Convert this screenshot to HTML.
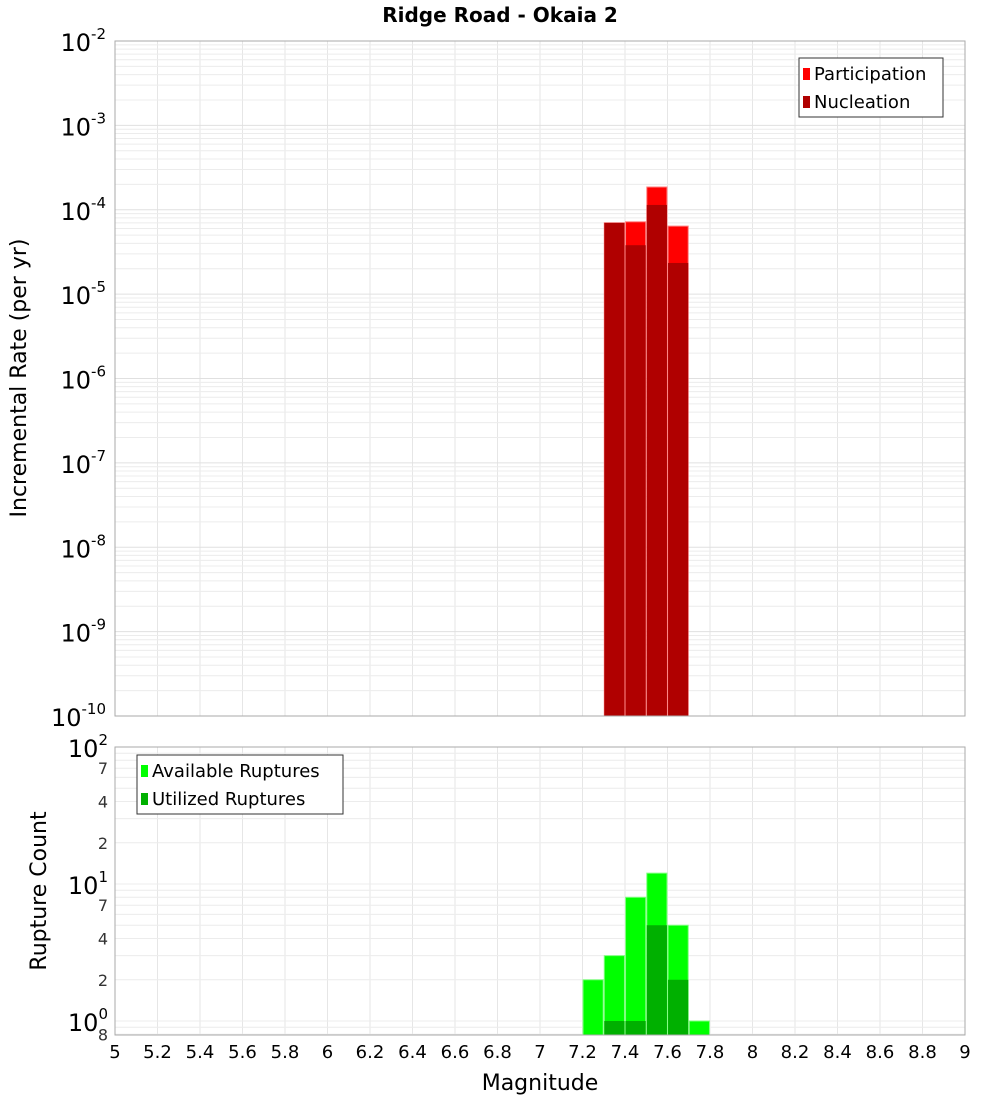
<!DOCTYPE html>
<html><head><meta charset="utf-8"><style>
html,body{margin:0;padding:0;background:#fff;}
svg{display:block;font-family:"DejaVu Sans","Liberation Sans",sans-serif;}
</style></head><body>
<svg id="c" width="1000" height="1100" xmlns="http://www.w3.org/2000/svg">
<text x="500" y="22" text-anchor="middle" font-size="20" font-weight="bold">Ridge Road - Okaia 2</text>
<g id="grid"></g><g id="bars"></g><g id="axes"></g>
</svg>
<script>
const mags = [7.35, 7.45, 7.55, 7.65];
const participation = [7.0e-5, 7.2e-5, 1.86e-4, 6.4e-5];
const nucleation = [7.0e-5, 3.8e-5, 1.14e-4, 2.34e-5];
const countMags = [7.25, 7.35, 7.45, 7.55, 7.65, 7.75];
const available = [2, 3, 8, 12, 5, 1];
const utilized = [0, 1, 1, 5, 2, 0];
const xTicks = ["5","5.2","5.4","5.6","5.8","6","6.2","6.4","6.6","6.8","7","7.2","7.4","7.6","7.8","8","8.2","8.4","8.6","8.8","9"];
const topExps = [-10,-9,-8,-7,-6,-5,-4,-3,-2];

const NS="http://www.w3.org/2000/svg";
const svg=document.getElementById('c');
const G=document.getElementById('grid'),B=document.getElementById('bars'),A=document.getElementById('axes');
function mk(p,tag,at){const e=document.createElementNS(NS,tag);for(const k in at)e.setAttribute(k,at[k]);p.appendChild(e);return e;}
const X0=115,X1=965;
const x=m=>X0+(m-5)/4*(X1-X0);
const T0=41,T1=716;
const yTop=v=>T0+(-2-Math.log10(v))*(T1-T0)/8;
const B0=747,B1=1035;
const yBot=v=>B0+(2-Math.log10(v))*137;

// frames background grids
function vgrid(y0,y1){for(let i=0;i<xTicks.length;i++){const xx=x(+xTicks[i]);const l=mk(G,'line',{x1:xx,x2:xx,y1:y0,y2:y1,stroke:'#e6e6e6'});

}}
vgrid(T0,T1);vgrid(B0,B1);
for(let e=-10;e<-2;e++)for(let k=1;k<10;k++){const yy=yTop(k*Math.pow(10,e));const l=mk(G,'line',{x1:X0,x2:X1,y1:yy,y2:yy,stroke:k==1?'#e0e0e0':'#ececec'});

}
for(let e=-1;e<2;e++)for(let k=1;k<10;k++){const v=k*Math.pow(10,e);const yy=yBot(v);if(yy>B1||yy<B0)continue;const l=mk(G,'line',{x1:X0,x2:X1,y1:yy,y2:yy,stroke:'#ececec'});

}

const bw=x(5.095)-x(5);
mags.forEach((m,i)=>{
 let r=mk(B,'rect',{x:x(m)-bw/2,y:yTop(participation[i]),width:bw,height:T1-yTop(participation[i]),fill:'#ff0000',stroke:'#ff8080','stroke-width':1});
 
 
 r=mk(B,'rect',{x:x(m)-bw/2,y:yTop(nucleation[i]),width:bw,height:T1-yTop(nucleation[i]),fill:'#b00000'});
 
 
});
countMags.forEach((m,i)=>{
 let r=mk(B,'rect',{x:x(m)-bw/2,y:yBot(available[i]),width:bw,height:B1-yBot(available[i]),fill:'#00ff00',stroke:'#80ff80','stroke-width':1});
 
 
 if(utilized[i]>0){r=mk(B,'rect',{x:x(m)-bw/2,y:yBot(utilized[i]),width:bw,height:B1-yBot(utilized[i]),fill:'#00b000'});
 
 }
});

let f=mk(A,'rect',{x:X0,y:T0,width:X1-X0,height:T1-T0,fill:'none',stroke:'#aaa'});


f=mk(A,'rect',{x:X0,y:B0,width:X1-X0,height:B1-B0,fill:'none',stroke:'#aaa'});



topExps.forEach(e=>{const yy=yTop(Math.pow(10,e));const t=mk(A,'text',{x:106,y:yy+10,'text-anchor':'end','font-size':24});


t.innerHTML='10<tspan dy="-12" font-size="15">'+e+'</tspan>';});
[[100,'10','2'],[10,'10','1'],[1,'10','0']].forEach(a=>{const yy=yBot(a[0]);const t=mk(A,'text',{x:108,y:yy+10,'text-anchor':'end','font-size':24});


t.innerHTML=a[1]+'<tspan dy="-12" font-size="15">'+a[2]+'</tspan>';});
[7,4,2,70,40,20,0.8].forEach(v=>{const yy=yBot(v);const t=mk(A,'text',{x:108,y:yy+6,'text-anchor':'end','font-size':16,fill:'#333'});


t.textContent=String(v>=10?v/10:(v<1?8:v));});
xTicks.forEach(s=>{const t=mk(A,'text',{x:x(+s),y:1058,'text-anchor':'middle','font-size':18});


t.textContent=s;});
let t=mk(A,'text',{x:540,y:1090,'text-anchor':'middle','font-size':22});


t.textContent='Magnitude';
t=mk(A,'text',{x:26,y:378,'text-anchor':'middle','font-size':22,transform:'rotate(-90 26 378)'});


t.textContent='Incremental Rate (per yr)';
t=mk(A,'text',{x:46,y:891,'text-anchor':'middle','font-size':22,transform:'rotate(-90 46 891)'});


t.textContent='Rupture Count';

function legend(x0,y0,w,items,name){const g=mk(A,'g',{});


mk(g,'rect',{x:x0,y:y0,width:w,height:59,fill:'#fff',stroke:'#333'});
items.forEach((it,i)=>{mk(g,'rect',{x:x0+4,y:y0+10+i*28,width:7,height:12,fill:it[1]});
const tt=mk(g,'text',{x:x0+15,y:y0+22+i*28,'font-size':18});


tt.textContent=it[0];});}
legend(799,58,144,[['Participation','#ff0000'],['Nucleation','#b00000']],'top-legend');
legend(137,755,206,[['Available Ruptures','#00ff00'],['Utilized Ruptures','#00b000']],'bottom-legend');
</script>
</body></html>
